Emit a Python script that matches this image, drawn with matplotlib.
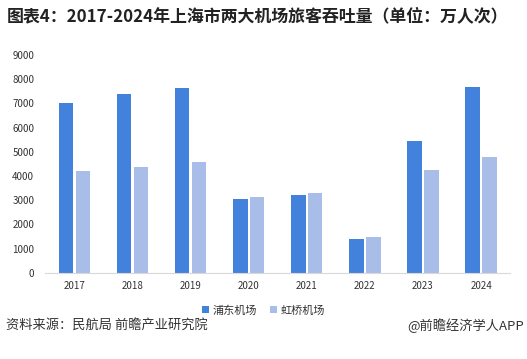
import numpy as np
import matplotlib
matplotlib.use("Agg")
import matplotlib.pyplot as plt

plt.rcParams['font.family'] = ['Noto Sans CJK SC', 'DejaVu Sans']

years = ['2017', '2018', '2019', '2020', '2021', '2022', '2023', '2024']
pudong = [7000, 7406, 7615, 3048, 3221, 1418, 5447, 7679]
hongqiao = [4188, 4363, 4564, 3116, 3303, 1471, 4250, 4785]
series_names = ['浦东机场', '虹桥机场']

fig = plt.figure(figsize=(5.27, 3.59), dpi=100)
ax = fig.add_axes([0.086, 0.24, 0.882, 0.607])

x = np.arange(len(years))
w = 0.25
ax.bar(x - 0.145, pudong, w, color='#4282DC', label=series_names[0])
ax.bar(x + 0.145, hongqiao, w, color='#A9BDE9', label=series_names[1])

ax.set_xlim(-0.5, len(years) - 0.5)
ax.set_ylim(0, 9000)
ax.set_yticks(range(0, 9001, 1000))
ax.set_xticks(x)
ax.set_xticklabels(years)
ax.tick_params(axis='both', length=0, labelsize=7, colors='#333333')
ax.tick_params(axis='x', pad=6)
ax.tick_params(axis='y', pad=8)
for s in ['top', 'right', 'left']:
    ax.spines[s].set_visible(False)
ax.spines['bottom'].set_color('#D9D9D9')

leg = fig.legend(loc='center', bbox_to_anchor=(0.5, 0.135), ncol=2, frameon=False,
                 fontsize=8, handlelength=0.6, handleheight=0.6, columnspacing=1.2,
                 handletextpad=0.3)
for t in leg.get_texts():
    t.set_color('#333333')

fig.text(0.012, 0.955, '图表4：2017-2024年上海市两大机场旅客吞吐量（单位：万人次）',
         fontsize=12.2, fontweight='bold', color='#222222', va='center', ha='left')
fig.text(0.012, 0.093, '资料来源：民航局 前瞻产业研究院', fontsize=9.5,
         color='#333333', va='center', ha='left')
fig.text(0.995, 0.093, '@前瞻经济学人APP', fontsize=9.5,
         color='#333333', va='center', ha='right')

fig.savefig('out.png', dpi=100)
